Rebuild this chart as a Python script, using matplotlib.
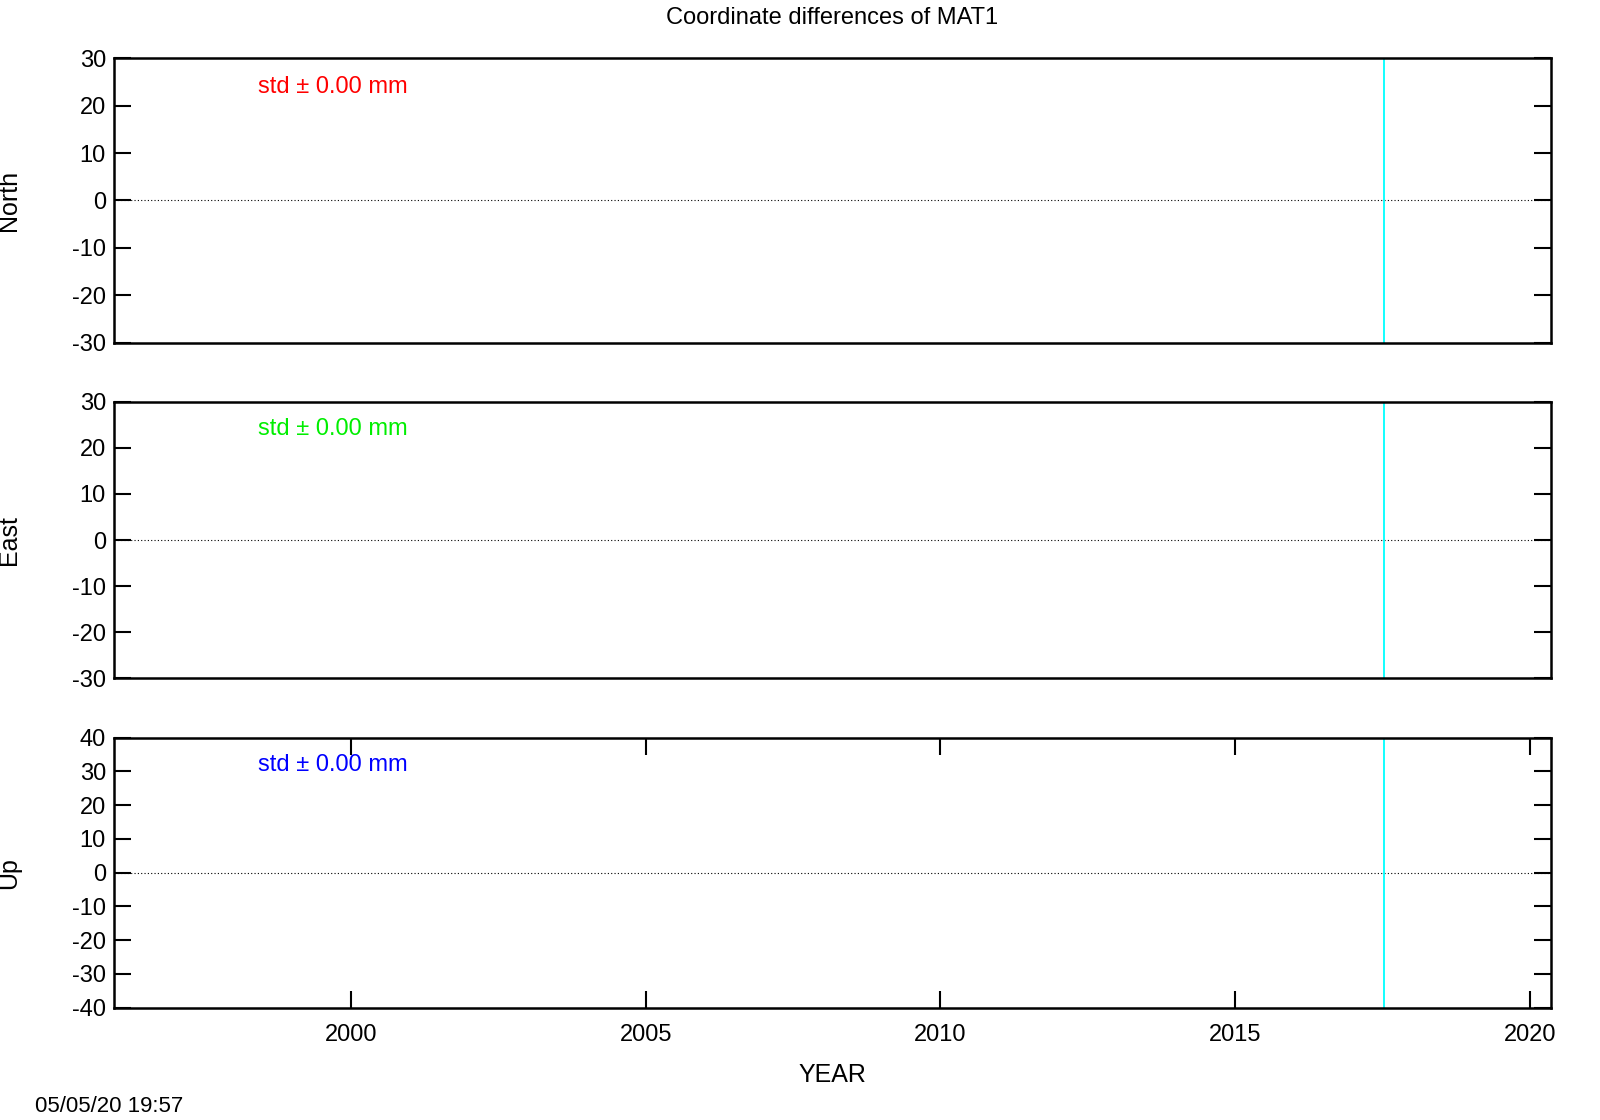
import matplotlib
matplotlib.use('Agg')
import matplotlib.pyplot as plt

# ---- data ----
panels = ['North', 'East', 'Up']
std_values = [0.00, 0.00, 0.00]
std_colors = ['red', '#00ee00', 'blue']
ylims = [(-30, 30), (-30, 30), (-40, 40)]
yticks = [list(range(-30, 31, 10)), list(range(-30, 31, 10)), list(range(-40, 41, 10))]
xlim = (1995.98, 2020.36)
xticks = [2000, 2005, 2010, 2015, 2020]
marker_year = 2017.52
title = 'Coordinate differences of MAT1'
stamp = '05/05/20 19:57'

plt.rcParams['font.family'] = 'Liberation Sans'
plt.rcParams['axes.unicode_minus'] = False
fig = plt.figure(figsize=(16, 11.2), dpi=100)

boxes = [(0.0714, 0.694, 0.898, 0.254),
         (0.0714, 0.3944, 0.898, 0.2468),
         (0.0714, 0.1002, 0.898, 0.2413)]

for i, name in enumerate(panels):
    ax = fig.add_axes(boxes[i])
    ax.set_xlim(*xlim)
    ax.set_ylim(*ylims[i])
    ax.set_yticks(yticks[i])
    ax.axhline(0, color='black', lw=0.8, ls=(0, (1, 2)))
    ax.axvline(marker_year, color='cyan', lw=1.3)
    for s in ax.spines.values():
        s.set_linewidth(1.8)
    ax.tick_params(axis='y', direction='in', length=12, width=1.5, right=True,
                   labelsize=17, pad=6)
    if i < 2:
        ax.set_xticks([])
    else:
        ax.set_xticks(xticks)
        ax.tick_params(axis='x', direction='in', length=12, width=1.5, top=True,
                       labelsize=17, pad=12)
        ax.set_xlabel('YEAR', fontsize=18, labelpad=12)
    ax.set_ylabel(name, fontsize=18)
    ax.yaxis.set_label_coords(-0.065, 0.5)
    ax.text(0.1, 0.9, f'std \u00b1 {std_values[i]:.2f} mm', color=std_colors[i],
            fontsize=17, transform=ax.transAxes, va='center')

fig.text(0.52, 0.984, title, ha='center', va='center', fontsize=17)
fig.text(0.022, 0.012, stamp, ha='left', va='center', fontsize=16)

fig.savefig('out.png', dpi=100)
